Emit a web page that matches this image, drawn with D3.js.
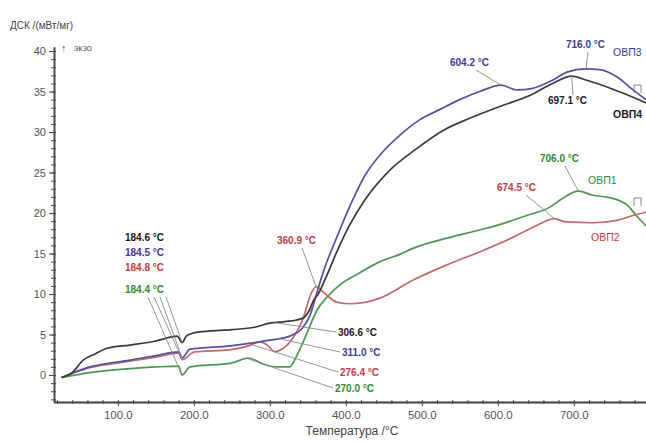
<!DOCTYPE html>
<html>
<head>
<meta charset="utf-8">
<script src="https://cdn.jsdelivr.net/npm/d3@7"></script>
<style>
  html, body { margin: 0; padding: 0; background: #fff; }
  svg { display: block; font-family: "Liberation Sans", Arial, sans-serif; }
</style>
</head>
<body>
<svg id="chart" width="646" height="442"></svg>
<script>
// DSC curves: temperature (°C) vs heat flow (mW/mg)
const ovp1 = [[26,-0.3],[63,0.3],[116,0.8],[150,1.0],[180,1.1],[184.4,0.0],[195,1.0],[250,1.5],[272,2.1],[290,1.4],[310,1.0],[326,1.0],[336,2.5],[349,5.2],[362,8.0],[375,9.6],[396,11.4],[418,12.6],[445,14.0],[471,14.9],[490,15.7],[533,16.9],[576,17.9],[600,18.5],[638,19.7],[668,20.7],[685,21.8],[706,22.7],[725,22.2],[747,21.9],[770,21.0],[783,19.6],[795,18.4]];
const ovp2 = [[26,-0.3],[63,0.9],[116,1.7],[150,2.2],[180,2.7],[184.8,1.9],[201,2.85],[247,3.1],[272,3.6],[287,4.1],[298,3.6],[306,2.9],[318,3.3],[330,4.5],[343,6.8],[355,10.2],[360.9,10.9],[372,10.1],[388,9.0],[405,8.8],[445,9.5],[488,11.7],[533,13.6],[576,15.2],[620,17.0],[650,18.4],[674.5,19.3],[690,18.9],[725,18.8],[757,19.1],[778,19.7],[795,20.1]];
const ovp3 = [[26,-0.3],[63,1.0],[116,1.85],[150,2.4],[180,2.85],[184.5,2.1],[195,3.2],[248,3.6],[280,4.0],[300,4.3],[326,4.8],[343,5.8],[353,7.4],[363,10.5],[372,13.2],[382,15.6],[392,17.9],[408,21.4],[425,24.6],[449,27.6],[471,29.6],[497,31.5],[524,32.8],[550,34.0],[576,35.0],[604.2,35.8],[625,35.2],[646,35.4],[672,36.4],[691,37.4],[716,37.8],[734,37.7],[757,36.8],[778,35.2],[795,34.0]];
const ovp4 = [[26,-0.3],[40,0.3],[54,1.8],[70,2.6],[86,3.3],[116,3.7],[150,4.2],[178,4.8],[184.6,4.0],[190,4.8],[200,5.2],[215,5.4],[250,5.6],[280,5.9],[300,6.4],[320,6.6],[335,6.8],[345,7.1],[352,8.0],[358,9.3],[363,9.9],[375,12.3],[389,15.4],[405,18.5],[425,21.6],[458,25.3],[491,27.8],[528,30.2],[563,31.7],[607,33.3],[642,34.5],[672,36.0],[697.1,36.9],[717,36.4],[743,35.6],[770,34.6],[795,33.6]];

const seriesNames = ["ОВП1", "ОВП2", "ОВП3", "ОВП4"];
const seriesData = [ovp1, ovp2, ovp3, ovp4];

// characteristic temperatures marked on each curve
const markTemps = {
  "ОВП1": [184.4, 270.0, 706.0],
  "ОВП2": [184.8, 276.4, 360.9, 674.5],
  "ОВП3": [184.5, 311.0, 604.2, 716.0],
  "ОВП4": [184.6, 306.6, 697.1]
};

const xMajorTicks = [100, 200, 300, 400, 500, 600, 700];
const yMajorTicks = [0, 5, 10, 15, 20, 25, 30, 35, 40];

// styling / layout
const lineColor = { "ОВП1": "#4f9650", "ОВП2": "#c46a6a", "ОВП3": "#5650a6", "ОВП4": "#3a3a3a" };
const textColor = { "ОВП1": "#2f8a2f", "ОВП2": "#c43c3c", "ОВП3": "#3b3b9c", "ОВП4": "#1a1a1a" };

// label boxes: text position and where the leader line starts
const labelLayout = {
  "ОВП4|184.6": { x: 125, y: 241, lx: 166, ly: 297 },
  "ОВП3|184.5": { x: 125, y: 256, lx: 160, ly: 297 },
  "ОВП2|184.8": { x: 125, y: 271, lx: 154, ly: 297 },
  "ОВП1|184.4": { x: 125, y: 293, lx: 148, ly: 297 },
  "ОВП2|360.9": { x: 277, y: 244, lx: 302, ly: 248 },
  "ОВП4|306.6": { x: 338, y: 336, lx: 336, ly: 332 },
  "ОВП3|311.0": { x: 342, y: 356, lx: 340, ly: 352 },
  "ОВП2|276.4": { x: 340, y: 376, lx: 338, ly: 372 },
  "ОВП1|270.0": { x: 335, y: 392, lx: 333, ly: 388 },
  "ОВП3|604.2": { x: 450, y: 66, lx: 476, ly: 70 },
  "ОВП3|716.0": { x: 566, y: 48, lx: 588, ly: 52 },
  "ОВП4|697.1": { x: 548, y: 104, lx: 573, ly: 95 },
  "ОВП1|706.0": { x: 540, y: 162, lx: 565, ly: 166 },
  "ОВП2|674.5": { x: 497, y: 191, lx: 526, ly: 195 }
};
const nameLayout = {
  "ОВП3": { x: 613, y: 56, weight: "normal" },
  "ОВП4": { x: 613, y: 118, weight: "bold" },
  "ОВП1": { x: 588, y: 184, weight: "normal" },
  "ОВП2": { x: 591, y: 241, weight: "normal" }
};

const svg = d3.select("#chart");
const x = d3.scaleLinear().domain([16, 795]).range([54, 646]);
const y = d3.scaleLinear().domain([-3.33, 40.5]).range([402, 47]);

const axisColor = "#4a4a4a";
const tickTextColor = "#555";

// y axis
const yMinor = d3.range(-3, 41, 1);
const gy = svg.append("g").attr("transform", `translate(${x.range()[0]},0)`);
gy.call(d3.axisLeft(y).tickValues(yMinor).tickSize(3).tickSizeOuter(0).tickFormat(""));
gy.append("g").call(d3.axisRight(y).tickValues(yMinor).tickSize(2).tickSizeOuter(0).tickFormat(""));
gy.append("g").call(d3.axisLeft(y).tickValues(yMajorTicks).tickSize(5).tickSizeOuter(0).tickPadding(3).tickFormat(d3.format("d")));
gy.selectAll("path.domain").attr("stroke", axisColor).attr("stroke-width", 1.4);
gy.selectAll("line").attr("stroke", axisColor);
gy.selectAll("text").attr("fill", tickTextColor).style("font-size", "11px");

// x axis
const xMinor = d3.range(20, 795, 20);
const gx = svg.append("g").attr("transform", `translate(0,${y.range()[0]})`);
gx.call(d3.axisBottom(x).tickValues(xMinor).tickSize(2).tickSizeOuter(0).tickFormat(""));
gx.append("g").call(d3.axisTop(x).tickValues(xMinor).tickSize(2).tickSizeOuter(0).tickFormat(""));
gx.append("g").call(d3.axisBottom(x).tickValues(xMajorTicks).tickSize(4).tickSizeOuter(0).tickPadding(5).tickFormat(d3.format(".1f")));
gx.selectAll("path.domain").attr("stroke", axisColor).attr("stroke-width", 1.4);
gx.selectAll("line").attr("stroke", axisColor);
gx.selectAll("text").attr("fill", tickTextColor).style("font-size", "11.5px");

// axis titles
svg.append("text").attr("x", 10).attr("y", 29).attr("fill", "#444")
  .style("font-size", "10px").text("ДСК /(мВт/мг)");
svg.append("text").attr("x", 61).attr("y", 52).attr("fill", "#555")
  .style("font-size", "11px").text("↑");
svg.append("text").attr("x", 74).attr("y", 51).attr("fill", "#555")
  .style("font-size", "9px").text("экзо");
svg.append("text").attr("x", 352).attr("y", 435).attr("text-anchor", "middle")
  .attr("fill", "#444").style("font-size", "12px").text("Температура /°C");

// curves
const line = d3.line().x(d => x(d[0])).y(d => y(d[1])).curve(d3.curveMonotoneX);
seriesNames.forEach((name, i) => {
  svg.append("path").datum(seriesData[i])
    .attr("fill", "none")
    .attr("stroke", lineColor[name])
    .attr("stroke-width", 1.7)
    .attr("stroke-linejoin", "round")
    .attr("d", line);
});

// value of a curve at a given temperature
function valueAt(data, t) {
  const hit = data.find(d => d[0] === t);
  if (hit) return hit[1];
  const i = d3.bisector(d => d[0]).left(data, t);
  const a = data[Math.max(0, i - 1)], b = data[Math.min(data.length - 1, i)];
  if (a[0] === b[0]) return a[1];
  return a[1] + (b[1] - a[1]) * (t - a[0]) / (b[0] - a[0]);
}

// temperature labels with leader lines
const leaders = svg.append("g");
const labels = svg.append("g");
seriesNames.forEach((name, i) => {
  markTemps[name].forEach(t => {
    const key = name + "|" + t.toFixed(1);
    const pos = labelLayout[key];
    const px = x(t), py = y(valueAt(seriesData[i], t));
    leaders.append("line")
      .attr("x1", pos.lx).attr("y1", pos.ly).attr("x2", px).attr("y2", py)
      .attr("stroke", "#8a8a8a").attr("stroke-width", 0.9);
    labels.append("text").attr("x", pos.x).attr("y", pos.y)
      .attr("fill", textColor[name])
      .attr("font-weight", "bold")
      .style("font-size", "10px")
      .text(t.toFixed(1) + " °C");
  });
});

// curve names
seriesNames.forEach(name => {
  const p = nameLayout[name];
  svg.append("text").attr("x", p.x).attr("y", p.y)
    .attr("fill", textColor[name]).attr("font-weight", p.weight)
    .style("font-size", "10.5px").text(name);
});

// end-of-segment markers on the right edge
[88, 201].forEach(my => {
  svg.append("path")
    .attr("d", `M634,${my + 5}V${my - 3}H641V${my + 5}`)
    .attr("fill", "none").attr("stroke", "#777").attr("stroke-width", 0.9);
});
</script>
</body>
</html>
